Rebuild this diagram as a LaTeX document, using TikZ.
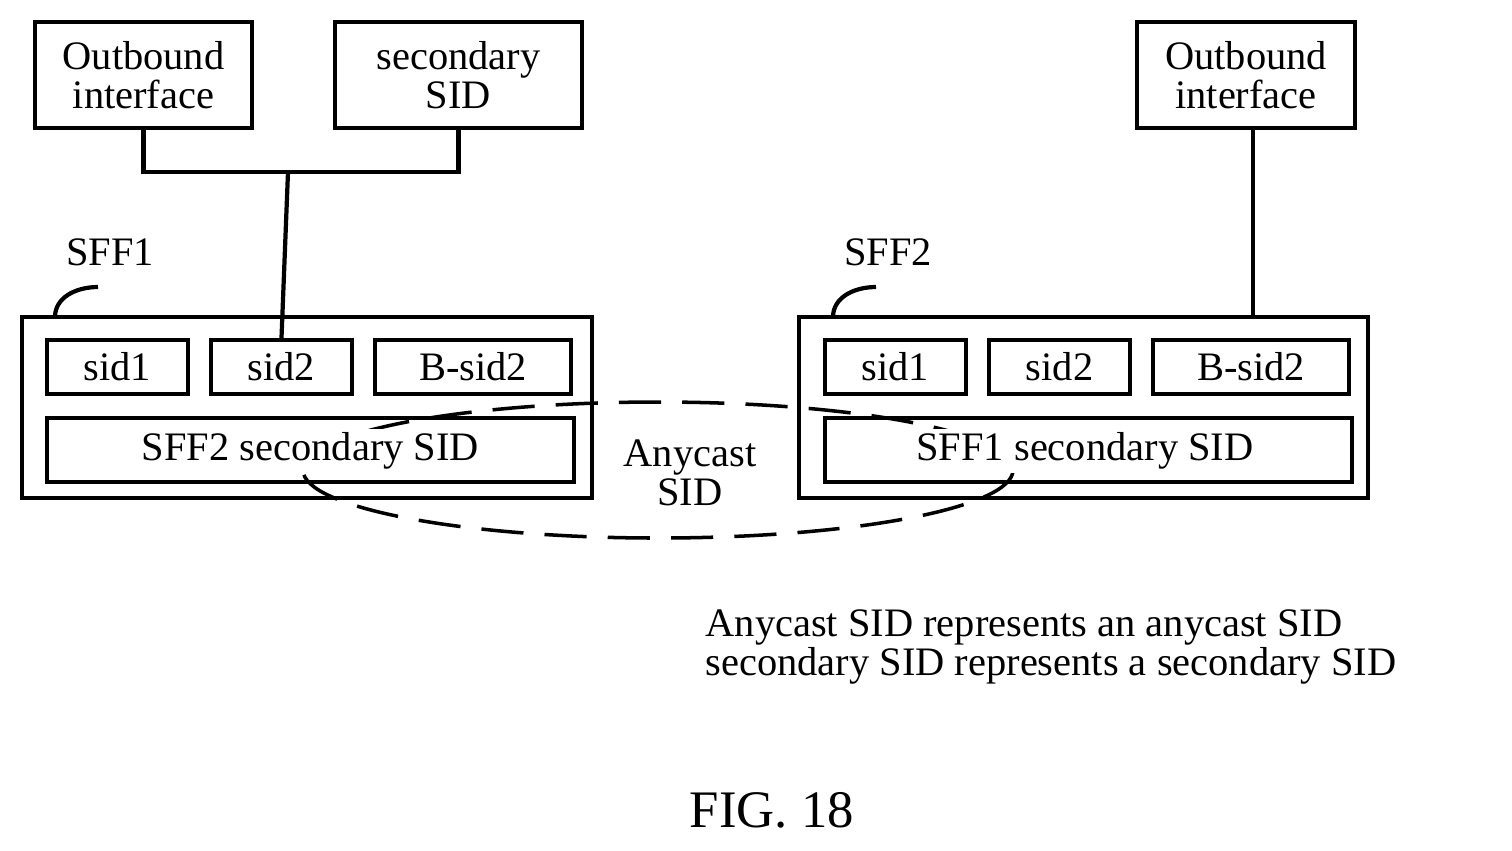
\documentclass[tikz,border=0pt]{standalone}
\usepackage{fontspec}
\setmainfont{Liberation Serif}
\usetikzlibrary{positioning}
\tikzset{
  box/.style={draw,line width=1.2pt,minimum height=1.06cm,align=center,inner sep=0pt},
  sid/.style={draw,line width=1.2pt,minimum height=0.54cm,inner sep=0pt},
  frame/.style={draw,line width=1.2pt,inner sep=0pt},
  lbl/.style={fill=white,inner sep=1pt}
}
\begin{document}
\fontsize{11.5}{13}\selectfont
\begin{tikzpicture}[x=0.01cm,y=-0.01cm,line width=1.2pt]
        \useasboundingbox (0,0) rectangle (1512,850);
        % top boxes
        \node[box,minimum width=2.17cm] (out1) at (143.5,75) {Outbound\\[-2pt]interface};
        \node[box,minimum width=2.47cm] (sec1) at (458.5,75) {secondary\\[-2pt]SID};
        \node[box,minimum width=2.18cm] (out2) at (1246,75) {Outbound\\[-2pt]interface};
        % device frames
        \draw (22,317) rectangle (592,498);
        \draw (799,317) rectangle (1368,498);
        \node (sff1) at (110,252) {SFF1};
        \node (sff2) at (888,252) {SFF2};
        \draw (55,317) .. controls (55,298) and (75,287) .. (98,287);
        \draw (833,317) .. controls (833,298) and (853,287) .. (876,287);
        % entries
        \node[sid,minimum width=1.41cm] (a1) at (117.5,367) {sid1};
        \node[sid,minimum width=1.41cm] (a2) at (281.5,367) {sid2};
        \node[sid,minimum width=1.96cm] (a3) at (473,367) {B-sid2};
        \node[sid,minimum width=1.41cm] (b1) at (895.5,367) {sid1};
        \node[sid,minimum width=1.41cm] (b2) at (1059.5,367) {sid2};
        \node[sid,minimum width=1.96cm] (b3) at (1251,367) {B-sid2};
        \draw (47,418) rectangle (574,482);
        \draw (825,418) rectangle (1352,482);
        % anycast
        \draw[dashed,line width=1pt,dash pattern=on 12pt off 6pt] (658,470) ellipse (355 and 68);
        \node[lbl] (s2sec) at (310.5,451) {SFF2 secondary SID};
        \node[lbl] (s1sec) at (1085,451) {SFF1 secondary SID};
        \node[align=center] (any) at (690,473) {Anycast\\[-2pt]SID};
        % links
        \coordinate (j1) at (288,172);
        \draw (out1.south) |- (j1) -| (sec1.south);
        \draw (j1) -- (a2.north);
        \draw (out2.south -| 1253,0) -- (1253,317);
        % legend
        \node[anchor=west,align=left] (leg) at (690,647) {Anycast SID represents an anycast SID\\[-2pt]secondary SID represents a secondary SID};
        \node[font=\fontsize{15}{17}\selectfont] (fig) at (772,810) {FIG. 18};
\end{tikzpicture}
\end{document}
